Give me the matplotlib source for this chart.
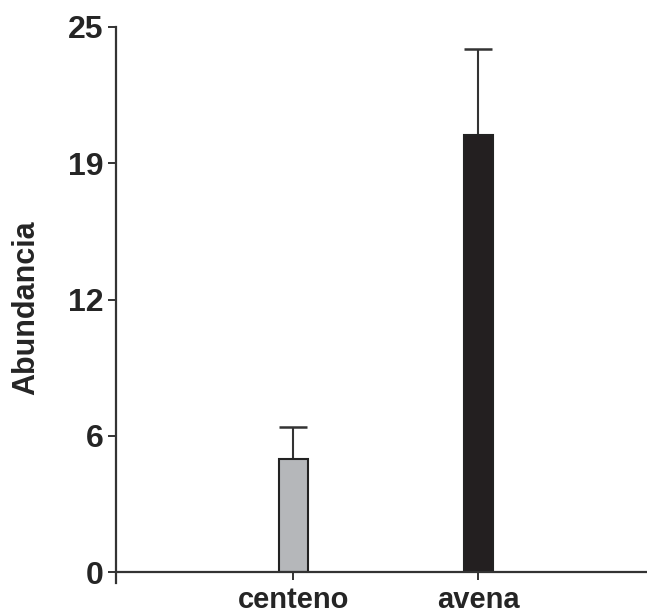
import matplotlib
matplotlib.use("Agg")
import matplotlib.pyplot as plt

categories = ["centeno", "avena"]
means = [5.2, 20.05]
errors = [1.45, 3.93]
bar_colors = ["#b5b7ba", "#231f20"]

yticks = [0, 6.25, 12.5, 18.75, 25]
ytick_labels = ["0", "6", "12", "19", "25"]

plt.rcParams["font.family"] = ["Liberation Sans", "DejaVu Sans"]
plt.rcParams["font.weight"] = "bold"

fig = plt.figure(figsize=(6.47, 6.16), dpi=100)
ax = fig.add_axes([116 / 647, 44 / 616, 1 - 116 / 647, 545 / 616])

xpos = [1, 2]
ax.bar(xpos, means, width=0.157, color=bar_colors, edgecolor="#222222",
       linewidth=1.5, zorder=2)
ax.errorbar(xpos, means, yerr=[[0, 0], errors], fmt="none", ecolor="#333333",
            elinewidth=1.5, capsize=10.4, capthick=1.8, zorder=1)

ax.set_xlim(0.043, 2.91)
ax.set_ylim(0, 25)
ax.set_xticks(xpos)
ax.set_xticklabels(categories, fontsize=21, color="#252525")
ax.set_yticks(yticks)
ax.set_yticklabels(ytick_labels, fontsize=23, color="#252525")
ax.set_ylabel("Abundancia", fontsize=22, fontweight="bold", color="#252525",
              labelpad=19)
ax.yaxis.label.set_y(0.485)

for side in ["top", "right"]:
    ax.spines[side].set_visible(False)
for side in ["left", "bottom"]:
    ax.spines[side].set_linewidth(1.6)
    ax.spines[side].set_color("#333333")
ax.spines["left"].set_bounds(-0.5, 25)
ax.tick_params(axis="both", length=6, width=1.4, color="#333333")
ax.tick_params(axis="y", pad=3)
ax.tick_params(axis="x", pad=4)

fig.savefig("out.png", dpi=100)
